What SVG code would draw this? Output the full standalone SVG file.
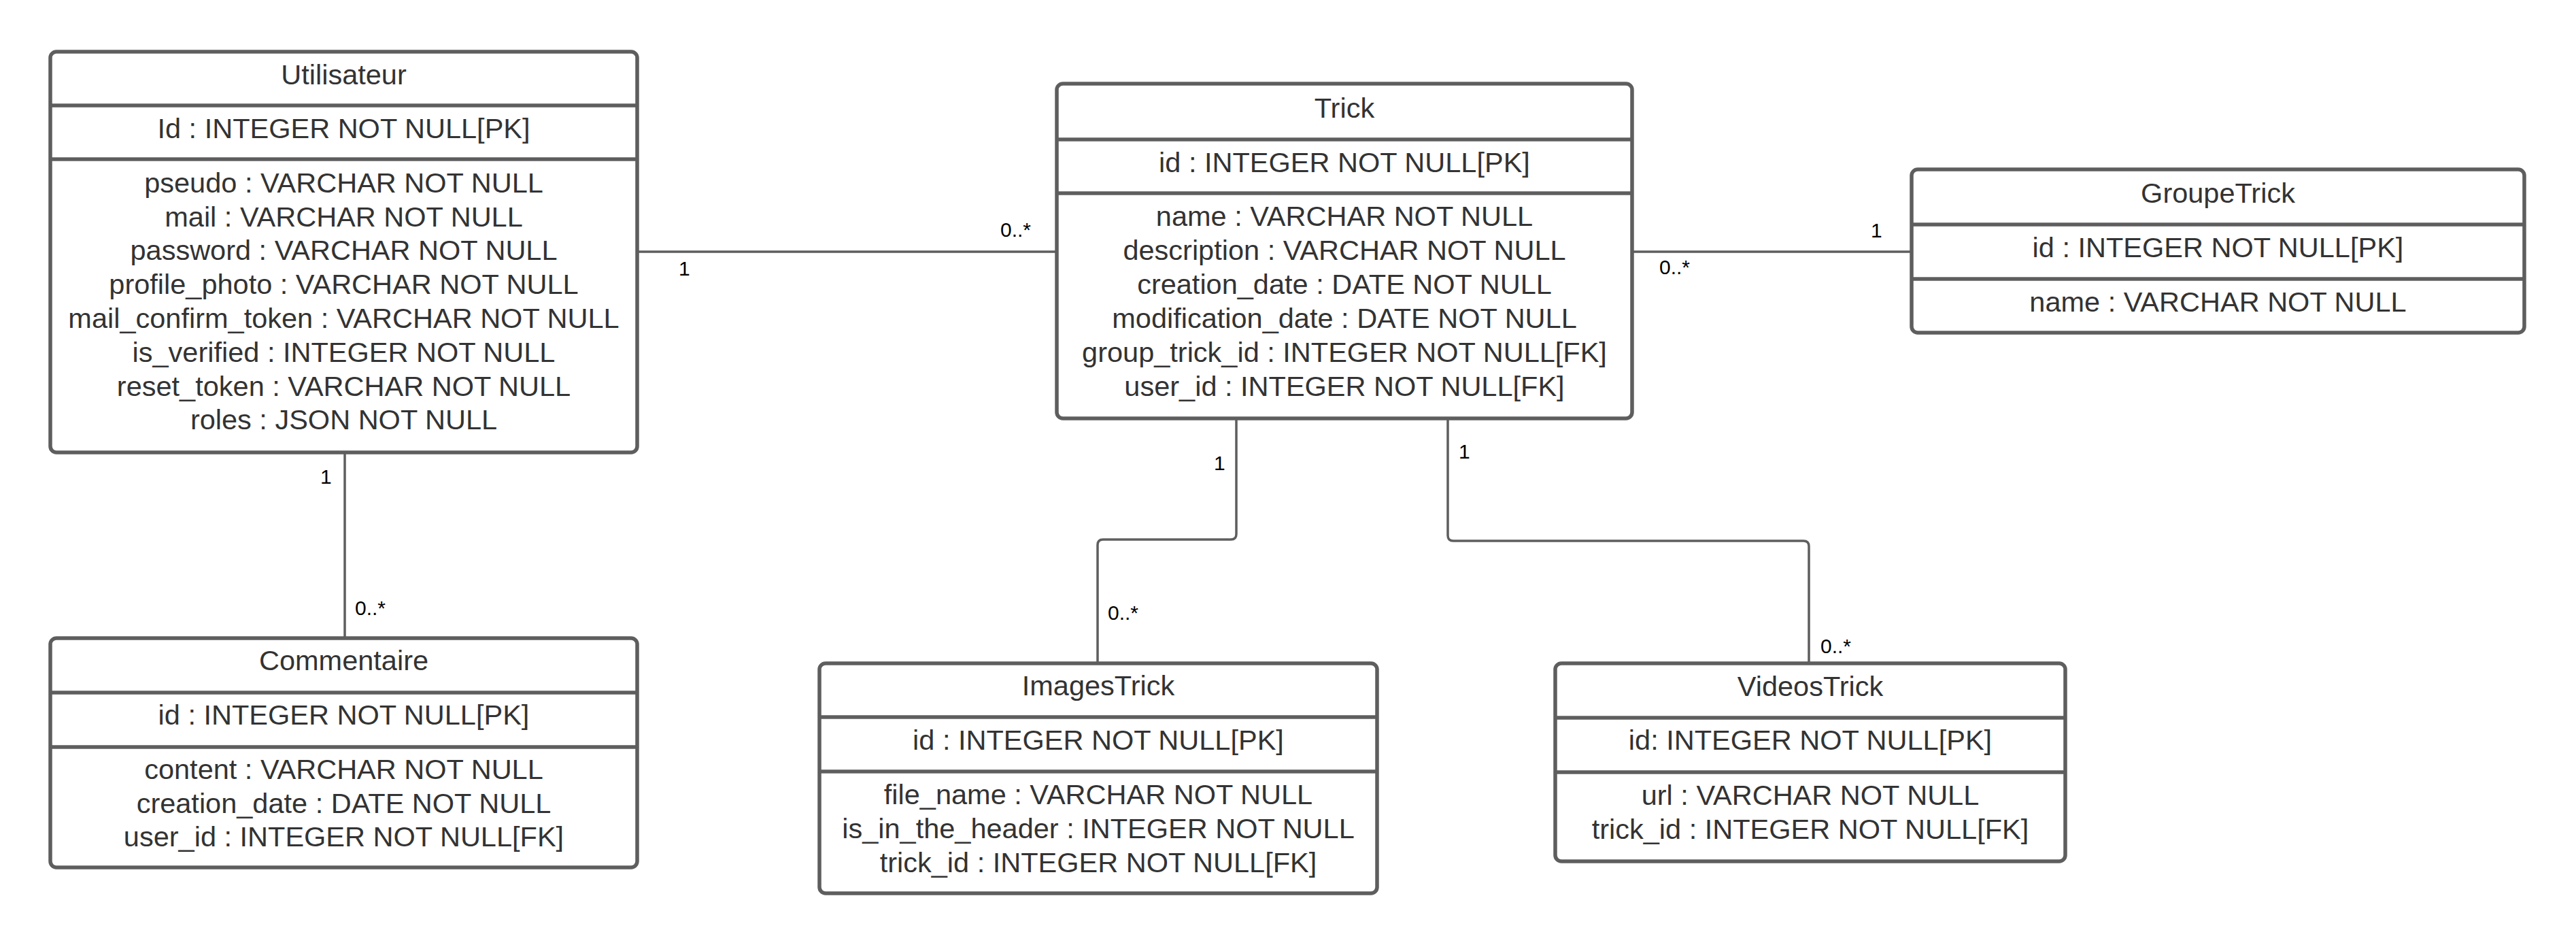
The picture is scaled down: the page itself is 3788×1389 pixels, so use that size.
<svg xmlns="http://www.w3.org/2000/svg" width="3788" height="1389" viewBox="0 0 3788 1389">
<style>
.box{fill:#ffffff;stroke:#5e5e5e;stroke-width:5.5}
.div{stroke:#5e5e5e;stroke-width:5.5}
.t{font-family:"Liberation Sans",Arial,sans-serif;font-size:41.5px;fill:#333333;text-anchor:middle}
.conn{fill:none;stroke:#5e5e5e;stroke-width:3.5}
.lbl{font-family:"Liberation Sans",Arial,sans-serif;font-size:30px;fill:#000000}
</style>
<rect width="3788" height="1389" fill="#ffffff"/>
<g id="connectors">
<path class="conn" d="M937 370 H1554"/>
<path class="conn" d="M2400 370 H2811"/>
<path class="conn" d="M507 665 V938"/>
<path class="conn" d="M1818 615 V785 Q1818 793 1810 793 H1622 Q1614 793 1614 801 V975"/>
<path class="conn" d="M2129 615 V787 Q2129 795 2137 795 H2652 Q2660 795 2660 803 V975"/>
<text class="lbl" x="998" y="405">1</text>
<text class="lbl" x="1471" y="348">0..*</text>
<text class="lbl" x="2751" y="349">1</text>
<text class="lbl" x="2440" y="403">0..*</text>
<text class="lbl" x="471" y="711">1</text>
<text class="lbl" x="522" y="904">0..*</text>
<text class="lbl" x="1785" y="691">1</text>
<text class="lbl" x="1629" y="911">0..*</text>
<text class="lbl" x="2145" y="674">1</text>
<text class="lbl" x="2677" y="960">0..*</text>
</g>
<g id="Utilisateur">
<rect class="box" x="74" y="76" width="863" height="589" rx="9"/>
<line class="div" x1="74" y1="155" x2="937" y2="155"/>
<line class="div" x1="74" y1="234" x2="937" y2="234"/>
<text class="t" x="505.5" y="124">Utilisateur</text>
<text class="t" x="505.5" y="203">Id : INTEGER NOT NULL[PK]</text>
<text class="t" x="505.5" y="283">pseudo : VARCHAR NOT NULL</text>
<text class="t" x="505.5" y="333">mail : VARCHAR NOT NULL</text>
<text class="t" x="505.5" y="382">password : VARCHAR NOT NULL</text>
<text class="t" x="505.5" y="432">profile_photo : VARCHAR NOT NULL</text>
<text class="t" x="505.5" y="482">mail_confirm_token : VARCHAR NOT NULL</text>
<text class="t" x="505.5" y="532">is_verified : INTEGER NOT NULL</text>
<text class="t" x="505.5" y="582">reset_token : VARCHAR NOT NULL</text>
<text class="t" x="505.5" y="631">roles : JSON NOT NULL</text>
</g>
<g id="Trick">
<rect class="box" x="1554" y="123" width="846" height="492" rx="9"/>
<line class="div" x1="1554" y1="205" x2="2400" y2="205"/>
<line class="div" x1="1554" y1="284" x2="2400" y2="284"/>
<text class="t" x="1977" y="173">Trick</text>
<text class="t" x="1977" y="253">id : INTEGER NOT NULL[PK]</text>
<text class="t" x="1977" y="332">name : VARCHAR NOT NULL</text>
<text class="t" x="1977" y="382">description : VARCHAR NOT NULL</text>
<text class="t" x="1977" y="432">creation_date : DATE NOT NULL</text>
<text class="t" x="1977" y="482">modification_date : DATE NOT NULL</text>
<text class="t" x="1977" y="532">group_trick_id : INTEGER NOT NULL[FK]</text>
<text class="t" x="1977" y="582">user_id : INTEGER NOT NULL[FK]</text>
</g>
<g id="GroupeTrick">
<rect class="box" x="2811" y="249" width="901" height="240" rx="9"/>
<line class="div" x1="2811" y1="330" x2="3712" y2="330"/>
<line class="div" x1="2811" y1="410" x2="3712" y2="410"/>
<text class="t" x="3261.5" y="298">GroupeTrick</text>
<text class="t" x="3261.5" y="378">id : INTEGER NOT NULL[PK]</text>
<text class="t" x="3261.5" y="458">name : VARCHAR NOT NULL</text>
</g>
<g id="Commentaire">
<rect class="box" x="74" y="938" width="863" height="337" rx="9"/>
<line class="div" x1="74" y1="1018" x2="937" y2="1018"/>
<line class="div" x1="74" y1="1098" x2="937" y2="1098"/>
<text class="t" x="505.5" y="985">Commentaire</text>
<text class="t" x="505.5" y="1065">id : INTEGER NOT NULL[PK]</text>
<text class="t" x="505.5" y="1145">content : VARCHAR NOT NULL</text>
<text class="t" x="505.5" y="1195">creation_date : DATE NOT NULL</text>
<text class="t" x="505.5" y="1244">user_id : INTEGER NOT NULL[FK]</text>
</g>
<g id="ImagesTrick">
<rect class="box" x="1205" y="975" width="820" height="338" rx="9"/>
<line class="div" x1="1205" y1="1054" x2="2025" y2="1054"/>
<line class="div" x1="1205" y1="1134" x2="2025" y2="1134"/>
<text class="t" x="1615" y="1022">ImagesTrick</text>
<text class="t" x="1615" y="1102">id : INTEGER NOT NULL[PK]</text>
<text class="t" x="1615" y="1182">file_name : VARCHAR NOT NULL</text>
<text class="t" x="1615" y="1232">is_in_the_header : INTEGER NOT NULL</text>
<text class="t" x="1615" y="1282">trick_id : INTEGER NOT NULL[FK]</text>
</g>
<g id="VideosTrick">
<rect class="box" x="2287" y="975" width="750" height="291" rx="9"/>
<line class="div" x1="2287" y1="1055" x2="3037" y2="1055"/>
<line class="div" x1="2287" y1="1135" x2="3037" y2="1135"/>
<text class="t" x="2662" y="1023">VideosTrick</text>
<text class="t" x="2662" y="1102">id: INTEGER NOT NULL[PK]</text>
<text class="t" x="2662" y="1183">url : VARCHAR NOT NULL</text>
<text class="t" x="2662" y="1233">trick_id : INTEGER NOT NULL[FK]</text>
</g>
</svg>
